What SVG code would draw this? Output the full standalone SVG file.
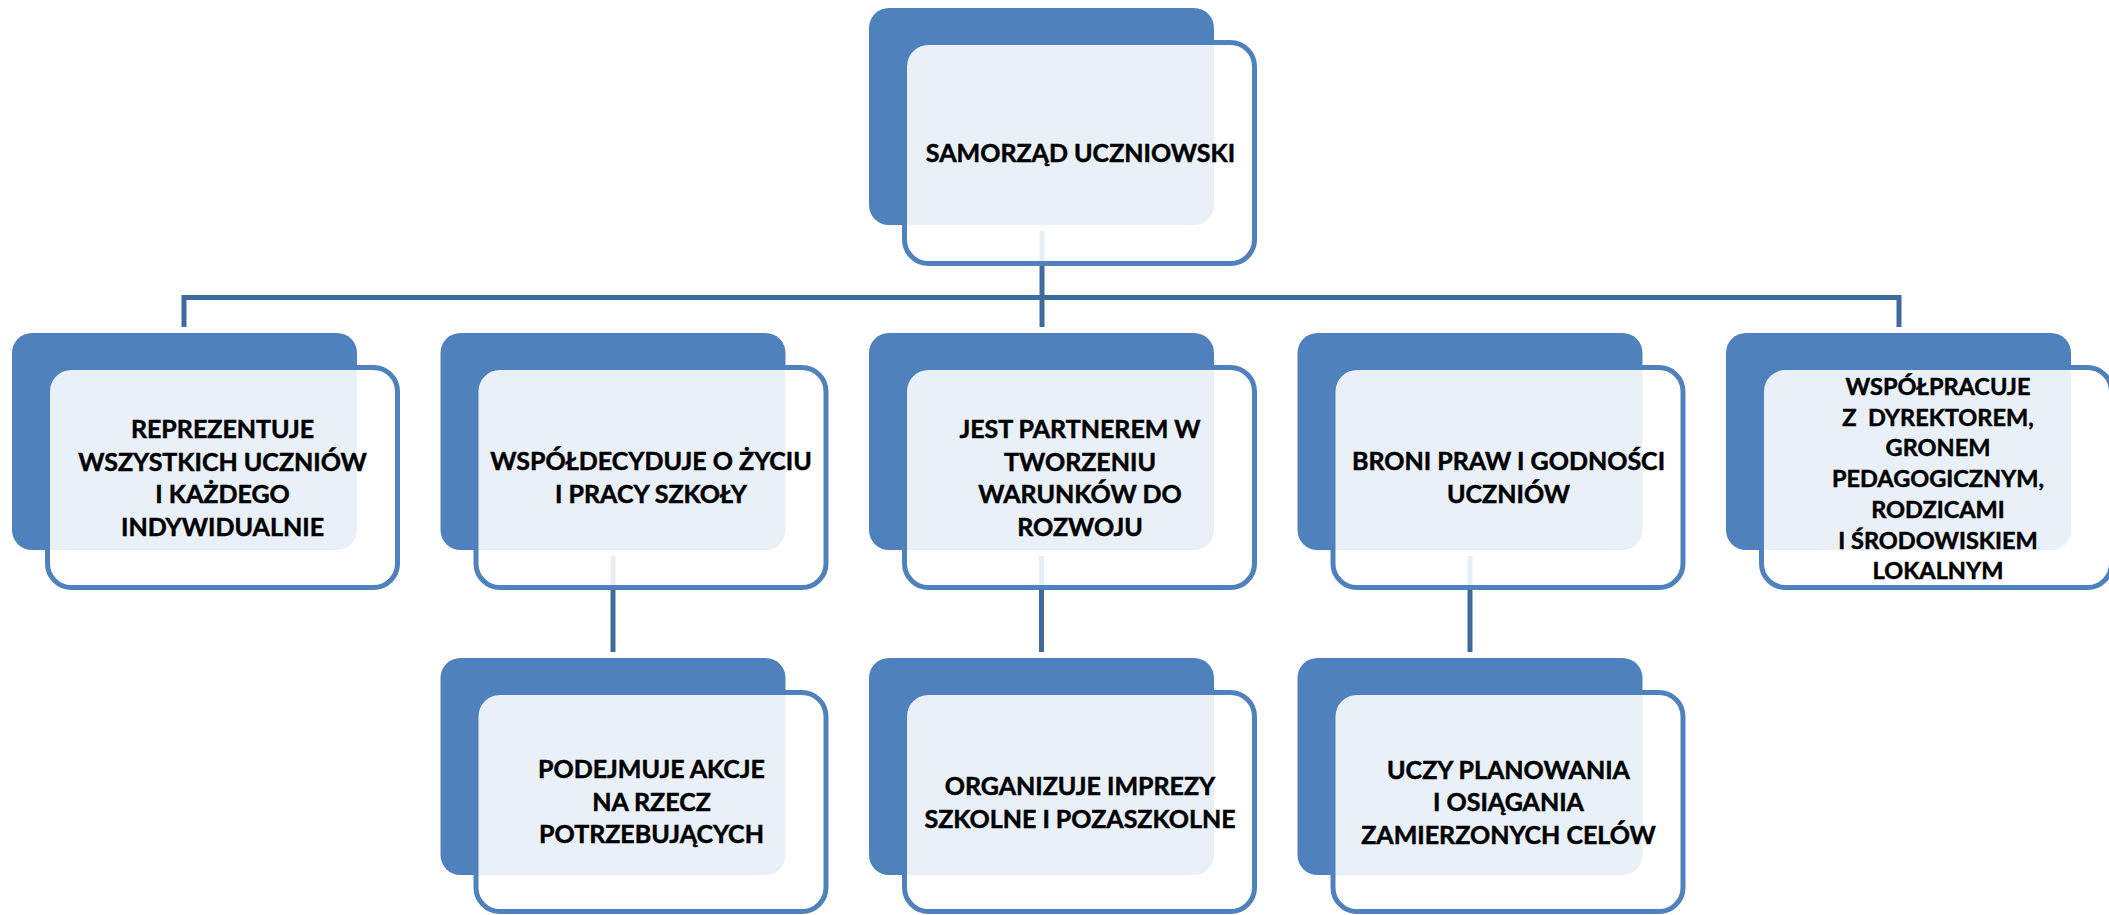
<svg xmlns="http://www.w3.org/2000/svg" width="2109" height="915" viewBox="0 0 2109 915">
<style>
.back{fill:#4F81BD}
.front{fill:#FFFFFF;fill-opacity:0.88;stroke:#4F81BD;stroke-width:5}
.conn{fill:none;stroke:#416A9C;stroke-width:5}
text{font-family:Lato,"Open Sans",sans-serif;font-weight:bold;font-size:25px;fill:#000;stroke:#000;stroke-width:0.5;text-anchor:middle;white-space:pre}
text.sm{font-size:23.5px}
</style>
<rect width="2109" height="915" fill="#FFFFFF"/>
<g id="connectors">
<path class="conn" d="M1042,231 V327"/>
<path class="conn" d="M184,327 V297.5 H1899 V327"/>
<path class="conn" d="M613,556 V652"/>
<path class="conn" d="M1041.5,556 V652"/>
<path class="conn" d="M1470,556 V652"/>
</g>
<g id="n0">
<rect class="back" x="869" y="8" width="345" height="217" rx="20"/>
<rect class="front" x="904.5" y="42.5" width="350" height="221" rx="24"/>
<text x="1080.5" y="162">SAMORZĄD UCZNIOWSKI</text>
</g>
<g id="n1">
<rect class="back" x="12" y="333" width="345" height="217" rx="20"/>
<rect class="front" x="47.5" y="367.5" width="350" height="220" rx="24"/>
<text x="222.5" y="438">REPREZENTUJE</text>
<text x="222.5" y="470.5">WSZYSTKICH UCZNIÓW</text>
<text x="222.5" y="503">I KAŻDEGO</text>
<text x="222.5" y="535.5">INDYWIDUALNIE</text>
</g>
<g id="n2">
<rect class="back" x="440.5" y="333" width="345" height="217" rx="20"/>
<rect class="front" x="476" y="367.5" width="350" height="220" rx="24"/>
<text x="651" y="470">WSPÓŁDECYDUJE O ŻYCIU</text>
<text x="651" y="503">I PRACY SZKOŁY</text>
</g>
<g id="n3">
<rect class="back" x="869" y="333" width="345" height="217" rx="20"/>
<rect class="front" x="904.5" y="367.5" width="350" height="220" rx="24"/>
<text x="1080" y="438">JEST PARTNEREM W</text>
<text x="1080" y="470.5">TWORZENIU</text>
<text x="1080" y="503">WARUNKÓW DO</text>
<text x="1080" y="535.5">ROZWOJU</text>
</g>
<g id="n4">
<rect class="back" x="1297.5" y="333" width="345" height="217" rx="20"/>
<rect class="front" x="1333" y="367.5" width="350" height="220" rx="24"/>
<text x="1508.5" y="470">BRONI PRAW I GODNOŚCI</text>
<text x="1508.5" y="503">UCZNIÓW</text>
</g>
<g id="n5">
<rect class="back" x="1726" y="333" width="345" height="217" rx="20"/>
<rect class="front" x="1761.5" y="367.5" width="350" height="220" rx="24"/>
<text class="sm" x="1938" y="395">WSPÓŁPRACUJE</text>
<text class="sm" x="1938" y="425.7">Z  DYREKTOREM,</text>
<text class="sm" x="1938" y="456.4">GRONEM</text>
<text class="sm" x="1938" y="487.1">PEDAGOGICZNYM,</text>
<text class="sm" x="1938" y="517.8">RODZICAMI</text>
<text class="sm" x="1938" y="548.5">I ŚRODOWISKIEM</text>
<text class="sm" x="1938" y="579.2">LOKALNYM</text>
</g>
<g id="n6">
<rect class="back" x="440.5" y="658" width="345" height="217" rx="20"/>
<rect class="front" x="476" y="692.5" width="350" height="219" rx="24"/>
<text x="651.5" y="778">PODEJMUJE AKCJE</text>
<text x="651.5" y="811">NA RZECZ</text>
<text x="651.5" y="843">POTRZEBUJĄCYCH</text>
</g>
<g id="n7">
<rect class="back" x="869" y="658" width="345" height="217" rx="20"/>
<rect class="front" x="904.5" y="692.5" width="350" height="219" rx="24"/>
<text x="1080" y="795">ORGANIZUJE IMPREZY</text>
<text x="1080" y="828">SZKOLNE I POZASZKOLNE</text>
</g>
<g id="n8">
<rect class="back" x="1297.5" y="658" width="345" height="217" rx="20"/>
<rect class="front" x="1333" y="692.5" width="350" height="219" rx="24"/>
<text x="1508.5" y="779">UCZY PLANOWANIA</text>
<text x="1508.5" y="811">I OSIĄGANIA</text>
<text x="1508.5" y="844">ZAMIERZONYCH CELÓW</text>
</g>
</svg>
